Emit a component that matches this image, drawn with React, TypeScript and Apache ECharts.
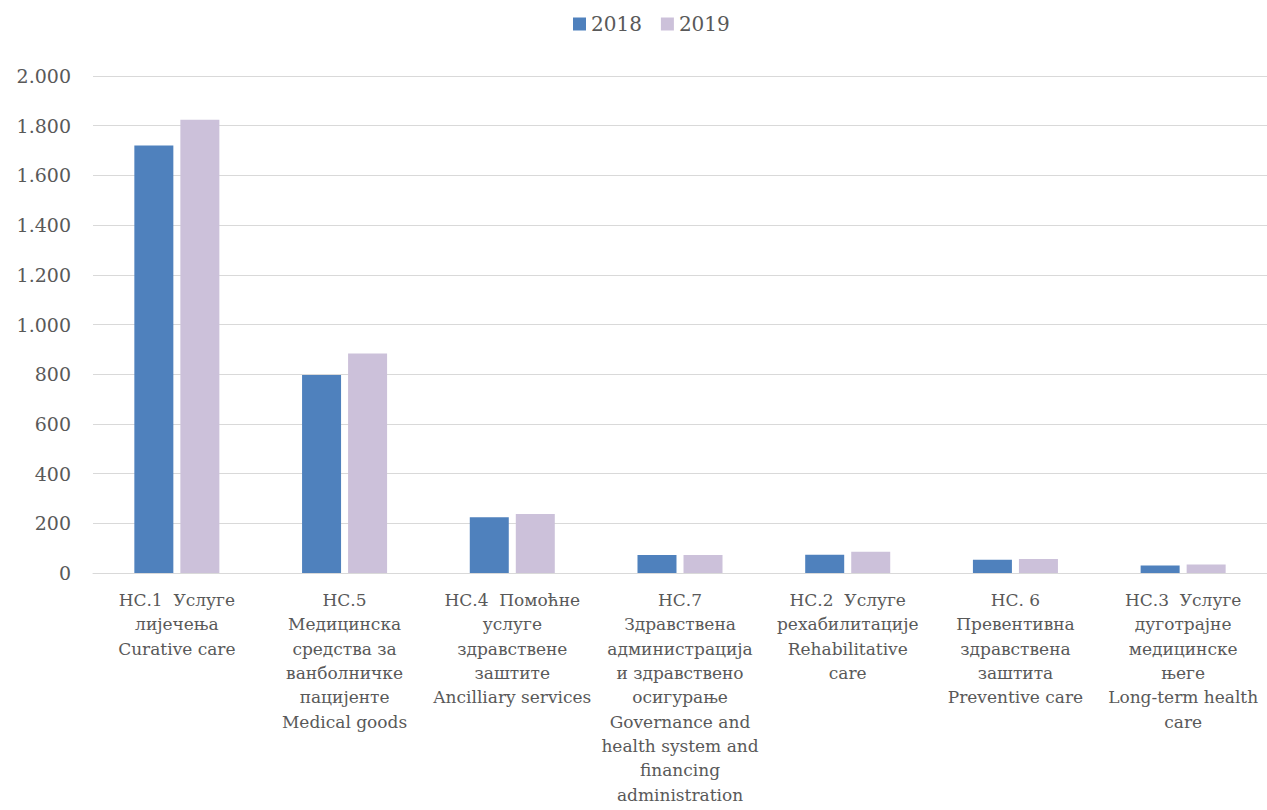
import React, { useEffect, useRef } from "react";
import * as echarts from "echarts";

const categories: string[] = [
  "НС.1  Услуге\nлијечења\nCurative care",
  "НС.5\nМедицинска\nсредства за\nванболничке\nпацијенте\nMedical goods",
  "НС.4  Помоћне\nуслуге\nздравствене\nзаштите\nAncilliary services",
  "НС.7\nЗдравствена\nадминистрација\nи здравствено\nосигурање\nGovernance and\nhealth system and\nfinancing\nadministration",
  "НС.2  Услуге\nрехабилитације\nRehabilitative\ncare",
  "НС. 6\nПревентивна\nздравствена\nзаштита\nPreventive care",
  "НС.3  Услуге\nдуготрајне\nмедицинске\nњеге\nLong-term health\ncare",
];

const values2018: number[] = [1720, 797, 224, 72, 73, 53, 30];
const values2019: number[] = [1824, 883, 237, 72, 86, 56, 34];

const seriesNames: string[] = ["2018", "2019"];
const yMin = 0;
const yMax = 2000;
const yInterval = 200;

const FONT = "'DejaVu Serif', serif";
const TEXT = "#595959";

function fmt(v: number): string {
  return String(v).replace(/\B(?=(\d{3})+(?!\d))/g, ".");
}

export default function App() {
  const ref = useRef<HTMLDivElement>(null);
  useEffect(() => {
    if (!ref.current) return;
    const chart = echarts.init(ref.current, null, { renderer: "svg" });
    chart.setOption({
      animation: false,
      backgroundColor: "#ffffff",
      textStyle: { fontFamily: FONT, color: TEXT },
      legend: {
        data: seriesNames,
        top: 9,
        left: 568,
        itemWidth: 13,
        itemHeight: 13,
        itemGap: 19,
        icon: "rect",
        textStyle: { fontFamily: FONT, fontSize: 20, color: TEXT },
      },
      grid: { left: 93, right: 0, top: 76, bottom: 237, containLabel: false },
      xAxis: {
        type: "category",
        data: categories,
        axisLine: { show: true, lineStyle: { color: "#D9D9D9", width: 1 } },
        axisTick: { show: false },
        axisLabel: {
          interval: 0,
          margin: 15,
          fontFamily: FONT,
          fontSize: 17,
          lineHeight: 24.3,
          color: TEXT,
          align: "center",
        },
      },
      yAxis: {
        type: "value",
        min: yMin,
        max: yMax,
        interval: yInterval,
        axisLine: { show: false },
        axisTick: { show: false },
        splitLine: { show: true, lineStyle: { color: "#D9D9D9", width: 1 } },
        axisLabel: {
          margin: 22,
          fontFamily: FONT,
          fontSize: 19,
          color: TEXT,
          formatter: (v: number) => fmt(v),
        },
      },
      series: [
        {
          name: seriesNames[0],
          type: "bar",
          data: values2018,
          barWidth: 39,
          barGap: "18%",
          itemStyle: { color: "#4F81BD" },
        },
        {
          name: seriesNames[1],
          type: "bar",
          data: values2019,
          barWidth: 39,
          barGap: "18%",
          itemStyle: { color: "#CCC1DA" },
        },
      ],
    });
    return () => chart.dispose();
  }, []);
  return (
    <div
      ref={ref}
      style={{ position: "fixed", left: 0, top: 0, width: 1267, height: 810 }}
    />
  );
}
